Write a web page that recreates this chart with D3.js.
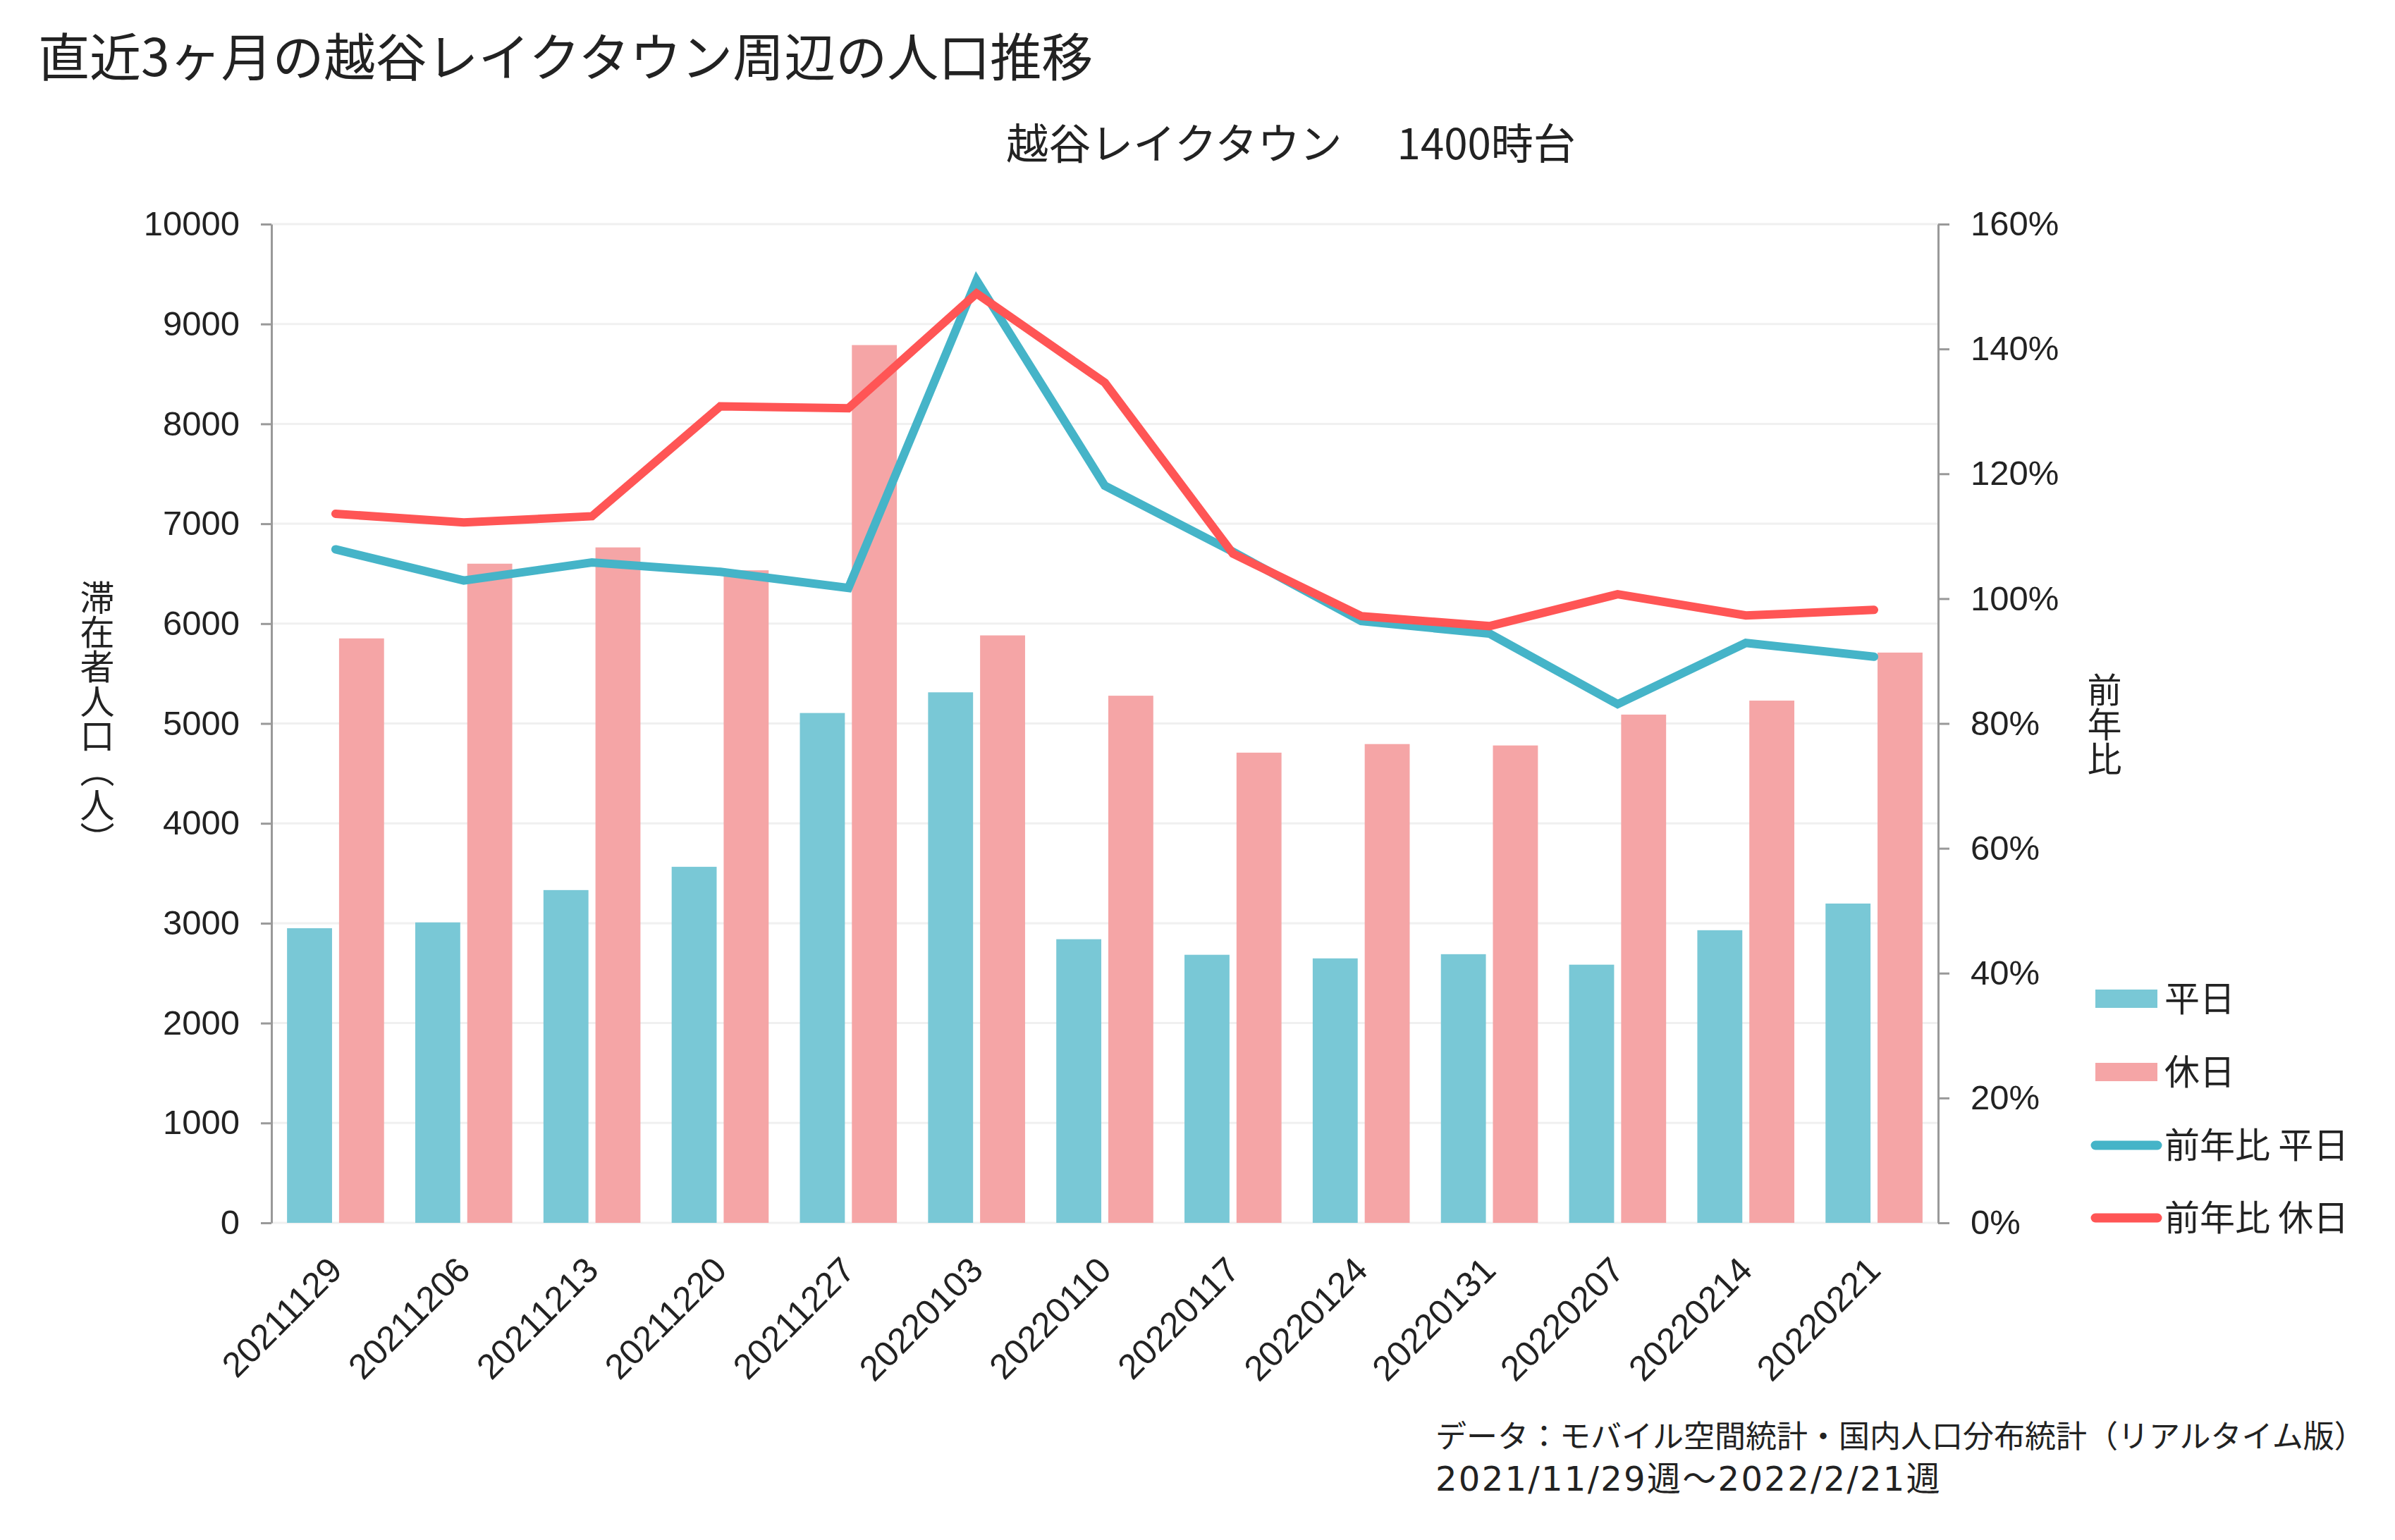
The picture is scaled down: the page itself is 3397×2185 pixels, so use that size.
<!DOCTYPE html>
<html>
<head>
<meta charset="utf-8">
<script src="https://cdn.jsdelivr.net/npm/d3@7"></script>
<style>
  html, body { margin: 0; padding: 0; background: #fff; }
  svg { display: block; }
</style>
</head>
<body>
<svg id="chart" width="3397" height="2185"></svg>
<script>
// ---- data ----
const categories = ["20211129","20211206","20211213","20211220","20211227","20220103","20220110","20220117","20220124","20220131","20220207","20220214","20220221"];
const weekday = [2950, 3008, 3332, 3565, 5105, 5312, 2840, 2684, 2648, 2690, 2585, 2930, 3197];
const holiday = [5852, 6600, 6763, 6534, 8789, 5882, 5278, 4708, 4794, 4780, 5089, 5229, 5710];
const yoyWeekday = [107.9, 102.9, 105.8, 104.3, 101.7, 151.0, 118.1, 107.5, 96.4, 94.4, 83.1, 92.9, 90.7];
const yoyHoliday = [113.6, 112.2, 113.2, 130.8, 130.5, 148.9, 134.6, 107.2, 97.2, 95.6, 100.7, 97.3, 98.2];
const leftTicks = [0, 1000, 2000, 3000, 4000, 5000, 6000, 7000, 8000, 9000, 10000];
const rightTicks = [0, 20, 40, 60, 80, 100, 120, 140, 160];
const seriesNames = ["平日", "休日", "前年比 平日", "前年比 休日"];
const titleText = "直近3ヶ月の越谷レイクタウン周辺の人口推移";
const subtitleA = "越谷レイクタウン";
const subtitleB = "1400時台";
const yTitleLeft = "滞在者人口（人）";
const yTitleRight = "前年比";
const note1 = "データ：モバイル空間統計・国内人口分布統計（リアルタイム版）";
const note2 = "2021/11/29週〜2022/2/21週";

// ---- style ----
const C = { wd: "#79C8D6", hd: "#F5A5A6", lwd: "#45B4C8", lhd: "#FF5555", text: "#222222", axis: "#999999", grid: "#F0F0F0" };
const CJK = "'Noto Sans CJK JP', 'Noto Sans', sans-serif";
const NUM = "'Liberation Sans', Arial, sans-serif";
const NOTE_NUM = "'DejaVu Sans', 'Noto Sans CJK JP', sans-serif";

const svg = d3.select("#chart");
const L = 385, R = 2749, T = 318, B = 1735;

const x = d3.scaleBand().domain(categories).range([L, R]).paddingInner(0).paddingOuter(0);
const xs = d3.scaleBand().domain(["wd", "hd"]).range([0, x.bandwidth()]).paddingInner(0.135).paddingOuter(0.3);
const yL = d3.scaleLinear().domain([0, 10000]).range([B, T]);
const yR = d3.scaleLinear().domain([0, 160]).range([B, T]);

// grid
svg.append("g").selectAll("line").data(leftTicks).join("line")
  .attr("x1", L).attr("x2", R).attr("y1", d => yL(d)).attr("y2", d => yL(d))
  .attr("stroke", C.grid).attr("stroke-width", 3);

// bars
const g = svg.append("g");
g.selectAll("rect.wd").data(weekday).join("rect").attr("class", "wd")
  .attr("x", (d, i) => x(categories[i]) + xs("wd")).attr("width", xs.bandwidth())
  .attr("y", d => yL(d)).attr("height", d => yL(0) - yL(d)).attr("fill", C.wd);
g.selectAll("rect.hd").data(holiday).join("rect").attr("class", "hd")
  .attr("x", (d, i) => x(categories[i]) + xs("hd")).attr("width", xs.bandwidth())
  .attr("y", d => yL(d)).attr("height", d => yL(0) - yL(d)).attr("fill", C.hd);

// lines
const cx = i => x(categories[i]) + x.bandwidth() / 2;
const line = d3.line().x((d, i) => cx(i)).y(d => yR(d));
svg.append("path").datum(yoyWeekday).attr("d", line).attr("fill", "none")
  .attr("stroke", C.lwd).attr("stroke-width", 12).attr("stroke-linejoin", "miter").attr("stroke-linecap", "round");
svg.append("path").datum(yoyHoliday).attr("d", line).attr("fill", "none")
  .attr("stroke", C.lhd).attr("stroke-width", 12).attr("stroke-linejoin", "miter").attr("stroke-linecap", "round");

// axes
const axL = svg.append("g").attr("transform", `translate(${L},0)`)
  .call(d3.axisLeft(yL).tickValues(leftTicks).tickSize(15).tickSizeOuter(0).tickPadding(30).tickFormat(d3.format("d")));
const axR = svg.append("g").attr("transform", `translate(${R},0)`)
  .call(d3.axisRight(yR).tickValues(rightTicks).tickSize(16).tickSizeOuter(0).tickPadding(30).tickFormat(d => d + "%"));
[axL, axR].forEach(a => {
  a.select(".domain").attr("stroke", C.axis).attr("stroke-width", 3);
  a.selectAll(".tick line").attr("stroke", C.axis).attr("stroke-width", 3);
  a.selectAll(".tick text").attr("fill", C.text).style("font-family", NUM).style("font-size", "49px");
});

// x labels
svg.append("g").selectAll("text").data(categories).join("text")
  .attr("transform", (d, i) => `translate(${cx(i) + 12},${B + 70}) rotate(-45)`)
  .attr("text-anchor", "end").attr("fill", C.text)
  .style("font-family", NUM).style("font-size", "50px").text(d => d);

// titles
svg.append("text").attr("x", 54).attr("y", 108).attr("fill", C.text)
  .style("font-family", CJK).style("font-size", "73px").text(titleText);
const st = svg.append("text").attr("x", 1831).attr("y", 226).attr("text-anchor", "middle").attr("fill", C.text)
  .style("font-family", CJK).style("font-size", "60px");
st.append("tspan").text(subtitleA);
st.append("tspan").attr("dx", 78).text(subtitleB);

// vertical axis titles
svg.append("text").attr("x", 138).attr("y", 1019).attr("text-anchor", "middle").attr("fill", C.text)
  .style("writing-mode", "vertical-rl").style("font-family", CJK).style("font-size", "49px").text(yTitleLeft);
svg.append("text").attr("x", 2985).attr("y", 1027).attr("text-anchor", "middle").attr("fill", C.text)
  .style("writing-mode", "vertical-rl").style("font-family", CJK).style("font-size", "49px").text(yTitleRight);

// legend
const lg = svg.append("g");
const rowsY = [1417, 1521, 1625, 1728];
lg.append("rect").attr("x", 2972).attr("y", rowsY[0] - 13).attr("width", 88).attr("height", 26).attr("fill", C.wd);
lg.append("rect").attr("x", 2972).attr("y", rowsY[1] - 13).attr("width", 88).attr("height", 26).attr("fill", C.hd);
lg.append("line").attr("x1", 2972).attr("x2", 3060).attr("y1", rowsY[2]).attr("y2", rowsY[2])
  .attr("stroke", C.lwd).attr("stroke-width", 13).attr("stroke-linecap", "round");
lg.append("line").attr("x1", 2972).attr("x2", 3060).attr("y1", rowsY[3]).attr("y2", rowsY[3])
  .attr("stroke", C.lhd).attr("stroke-width", 13).attr("stroke-linecap", "round");
lg.selectAll("text").data(seriesNames).join("text")
  .attr("x", 3070).attr("y", (d, i) => rowsY[i]).attr("dy", "0.36em").attr("fill", C.text)
  .style("font-family", CJK).style("font-size", "50px").text(d => d);

// footnote (one text block, two lines)
const fn = svg.append("text").attr("fill", C.text);
fn.append("tspan").attr("x", 2036).attr("y", 2054)
  .style("font-family", CJK).style("font-size", "44px").text(note1);
const fn2 = fn.append("tspan").attr("x", 2036).attr("y", 2115)
  .style("font-family", NOTE_NUM).style("font-size", "48px").text(note2);
const natural2 = fn2.node().getComputedTextLength();
const target2 = 718;
fn2.style("letter-spacing", ((target2 - natural2) / note2.length).toFixed(2) + "px");
</script>
</body>
</html>
